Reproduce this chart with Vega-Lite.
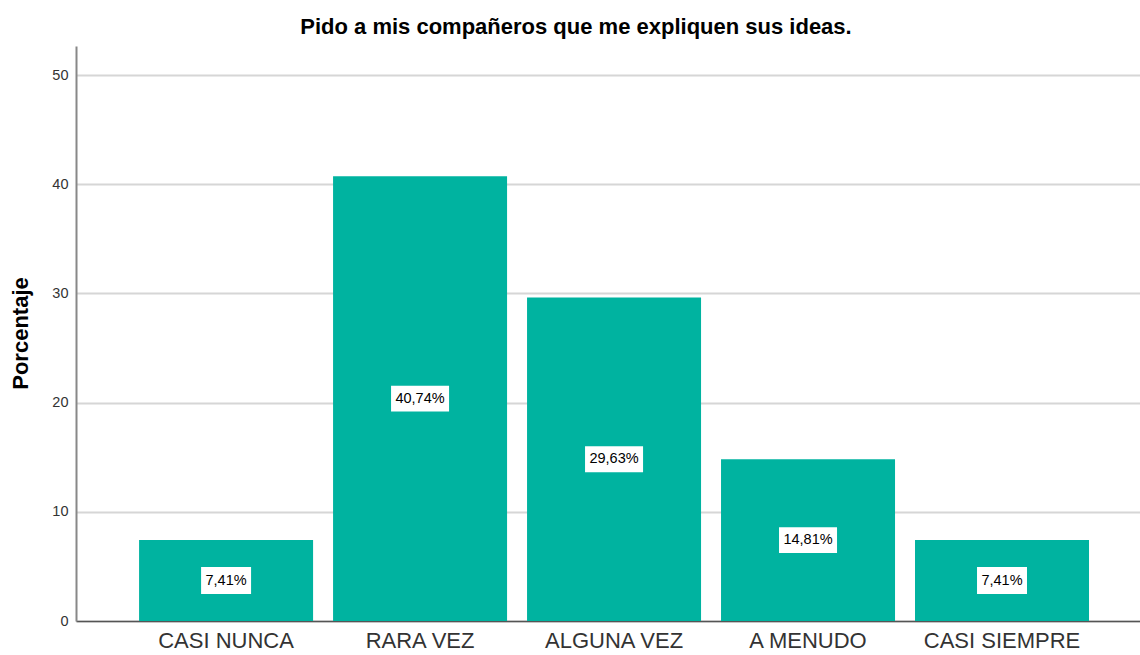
{
  "$schema": "https://vega.github.io/schema/vega-lite/v6.json",
  "autosize": {"type": "none"},
  "width": 1064,
  "height": 575,
  "padding": {"left": 76, "top": 46, "right": 0, "bottom": 34},
  "background": "white",
  "title": {
    "text": "Pido a mis compañeros que me expliquen sus ideas.",
    "font": "Liberation Sans",
    "fontSize": 22,
    "fontWeight": "bold",
    "color": "#000000",
    "anchor": "middle",
    "frame": "group",
    "dx": -32,
    "offset": 7
  },
  "data": {
    "values": [
      {"categoria": "CASI NUNCA", "porcentaje": 7.41, "etiqueta": "7,41%"},
      {"categoria": "RARA VEZ", "porcentaje": 40.74, "etiqueta": "40,74%"},
      {"categoria": "ALGUNA VEZ", "porcentaje": 29.63, "etiqueta": "29,63%"},
      {"categoria": "A MENUDO", "porcentaje": 14.81, "etiqueta": "14,81%"},
      {"categoria": "CASI SIEMPRE", "porcentaje": 7.41, "etiqueta": "7,41%"}
    ]
  },
  "config": {
    "view": {"stroke": null},
    "font": "Liberation Sans"
  },
  "encoding": {
    "x": {
      "field": "categoria",
      "type": "nominal",
      "sort": null,
      "scale": {"paddingInner": 0.103, "paddingOuter": 0.294, "align": 0.553},
      "axis": {
        "title": null,
        "labelAngle": 0,
        "labelFont": "Liberation Sans",
        "labelFontSize": 22,
        "labelColor": "#333333",
        "labelPadding": 9,
        "ticks": false,
        "domainColor": "#555555",
        "domainWidth": 1.5,
        "grid": false
      }
    }
  },
  "layer": [
    {
      "mark": {"type": "bar", "color": "#00b3a0"},
      "encoding": {
        "y": {
          "field": "porcentaje",
          "type": "quantitative",
          "scale": {"domain": [0, 52.66], "nice": false},
          "axis": {
            "title": "Porcentaje",
            "titleFont": "Liberation Sans",
            "titleFontSize": 22,
            "titleFontWeight": "bold",
            "titleColor": "#000000",
            "titleAngle": -90,
            "titleX": -56,
            "titleY": 287,
            "titleAlign": "center",
            "titleBaseline": "middle",
            "values": [0, 10, 20, 30, 40, 50],
            "labelFont": "Liberation Sans",
            "labelFontSize": 14.5,
            "labelColor": "#333333",
            "labelPadding": 8,
            "ticks": false,
            "domainColor": "#888888",
            "domainWidth": 2,
            "grid": true,
            "gridColor": "#d6d6d6",
            "gridWidth": 2
          }
        }
      }
    },
    {
      "mark": {"type": "point", "filled": true, "fill": "white", "opacity": 1, "strokeWidth": 0, "size": 3600},
      "encoding": {
        "y": {
          "field": "porcentaje",
          "type": "quantitative",
          "scale": {"domain": [0, 105.32], "nice": false},
          "axis": null
        },
        "shape": {
          "field": "etiqueta",
          "type": "nominal",
          "legend": null,
          "scale": {
            "domain": ["7,41%", "40,74%", "29,63%", "14,81%"],
            "range": [
              "M-0.833,-0.45H0.833V0.45H-0.833Z",
              "M-0.967,-0.43H0.967V0.43H-0.967Z",
              "M-0.967,-0.43H0.967V0.43H-0.967Z",
              "M-0.967,-0.43H0.967V0.43H-0.967Z"
            ]
          }
        }
      }
    },
    {
      "mark": {"type": "text", "font": "Liberation Sans", "fontSize": 14.5, "color": "#000000", "align": "center", "baseline": "middle"},
      "encoding": {
        "y": {
          "field": "porcentaje",
          "type": "quantitative",
          "scale": {"domain": [0, 105.32], "nice": false},
          "axis": null
        },
        "text": {"field": "etiqueta", "type": "nominal"}
      }
    }
  ],
  "resolve": {"scale": {"y": "independent", "shape": "independent"}, "axis": {"y": "independent"}}
}
